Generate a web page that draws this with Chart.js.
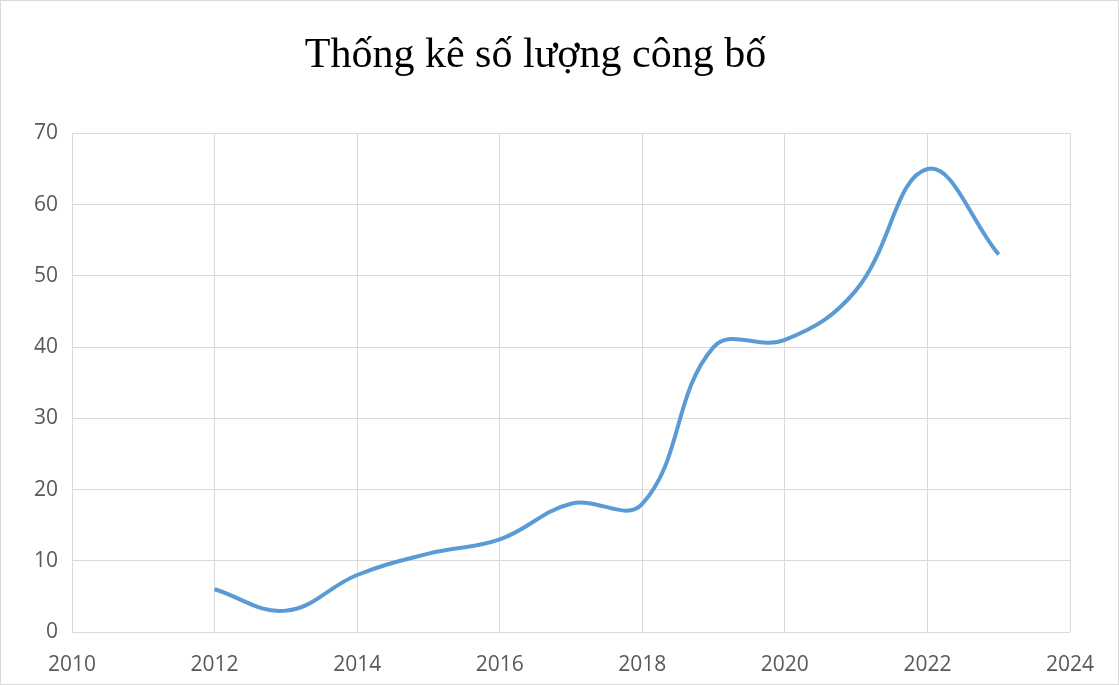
<!DOCTYPE html>
<html><head><meta charset="utf-8">
<script src="https://cdn.jsdelivr.net/npm/chart.js@4"></script>
<style>html,body{margin:0;padding:0;background:#fff}#w{width:1119px;height:685px;position:relative;box-sizing:border-box;border:1px solid #d9d9d9}</style>
</head><body><div id="w"><canvas id="c"></canvas></div>
<script>
const years = [2012,2013,2014,2015,2016,2017,2018,2019,2020,2021,2022,2023];
const counts = [6,3,8,11,13,18,18,40,41,48,65,53];
const titleText = "Thống kê số lượng công bố";
new Chart(document.getElementById('c'), {
  type: 'line',
  data: { datasets: [{ data: years.map((y,i)=>({x:y,y:counts[i]})), borderColor:'#5B9BD5', borderWidth:4, pointRadius:0, tension:0.4, fill:false }] },
  options: {
    responsive:true, maintainAspectRatio:false, animation:false,
    layout:{padding:{left:0,right:48,top:0,bottom:0}},
    plugins:{ legend:{display:false}, tooltip:{enabled:false},
      title:{display:true,text:titleText,color:'#000',font:{family:'Liberation Serif',size:42,weight:'normal'},padding:{top:30,bottom:52}} },
    scales:{
      x:{type:'linear',min:2010,max:2024,ticks:{stepSize:2,color:'#595959',font:{family:'Open Sans',size:21},padding:20,callback:v=>String(v)},
         grid:{color:'#d9d9d9',drawTicks:false},border:{display:false},afterFit:s=>{s.height=52}},
      y:{min:0,max:70,ticks:{stepSize:10,color:'#595959',font:{family:'Open Sans',size:21},padding:14},
         grid:{color:'#d9d9d9',drawTicks:false},border:{display:false},afterFit:s=>{s.width=71}}
    }
  }
});
</script></body></html>
